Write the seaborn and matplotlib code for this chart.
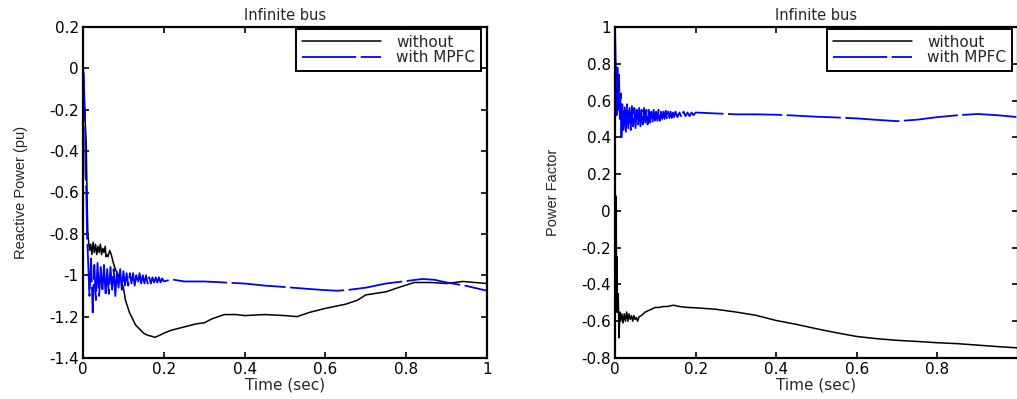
import matplotlib
matplotlib.use("Agg")
import matplotlib.pyplot as plt
from matplotlib import font_manager
import seaborn as sns
import pandas as pd

# ---------------- data ----------------
title_text = "Infinite bus"
x_label = "Time (sec)"
y_label_left = "Reactive Power (pu)"
y_label_right = "Power Factor"
series_names = ["without", "with MPFC"]

x_ticks = [0, 0.2, 0.4, 0.6, 0.8, 1.0]
x_ticklabels_left = ["0", "0.2", "0.4", "0.6", "0.8", "1"]
x_ticklabels_right = ["0", "0.2", "0.4", "0.6", "0.8", ""]
y_ticks_left = [0.2, 0, -0.2, -0.4, -0.6, -0.8, -1, -1.2, -1.4]
y_ticklabels_left = ["0.2", "0", "-0.2", "-0.4", "-0.6", "-0.8", "-1", "-1.2", "-1.4"]
y_ticks_right = [1, 0.8, 0.6, 0.4, 0.2, 0, -0.2, -0.4, -0.6, -0.8]
y_ticklabels_right = ["1", "0.8", "0.6", "0.4", "0.2", "0", "-0.2", "-0.4", "-0.6", "-0.8"]

# Reactive power, without MPFC (time, value)
q_without = [
    (0.000, 0.00), (0.004, -0.20), (0.008, -0.36), (0.010, -0.62), (0.012, -0.80),
    (0.014, -0.84), (0.016, -0.88), (0.019, -0.85), (0.022, -0.90), (0.025, -0.84),
    (0.028, -0.89), (0.031, -0.85), (0.034, -0.90), (0.037, -0.86), (0.040, -0.89),
    (0.043, -0.85), (0.046, -0.90), (0.049, -0.87), (0.052, -0.89), (0.055, -0.86),
    (0.057, -0.91), (0.059, -0.90), (0.062, -0.91), (0.066, -0.88), (0.070, -0.90),
    (0.075, -0.94), (0.080, -0.97), (0.085, -0.99), (0.090, -1.01), (0.095, -1.03),
    (0.100, -1.06), (0.105, -1.12), (0.110, -1.15), (0.115, -1.18), (0.120, -1.20),
    (0.130, -1.24), (0.140, -1.26), (0.150, -1.28), (0.160, -1.29), (0.170, -1.295),
    (0.178, -1.30), (0.190, -1.29), (0.200, -1.28), (0.220, -1.265), (0.250, -1.25),
    (0.280, -1.235), (0.300, -1.23), (0.320, -1.21), (0.350, -1.19), (0.380, -1.19),
    (0.400, -1.195), (0.450, -1.19), (0.500, -1.195), (0.530, -1.20), (0.560, -1.18),
    (0.600, -1.16), (0.650, -1.14), (0.680, -1.12), (0.700, -1.095), (0.750, -1.08),
    (0.780, -1.06), (0.820, -1.035), (0.860, -1.035), (0.900, -1.04), (0.940, -1.03),
    (0.970, -1.035), (1.000, -1.04),
]

# Reactive power, with MPFC (time, value)
q_with = [
    (0.000, 0.00), (0.002, -0.03), (0.004, -0.20), (0.005, -0.20), (0.006, -0.50),
    (0.008, -0.58), (0.010, -0.80), (0.012, -0.90), (0.016, -1.10), (0.020, -0.92),
    (0.024, -1.18), (0.028, -0.95), (0.032, -1.12), (0.036, -0.94), (0.040, -1.10),
    (0.044, -0.96), (0.048, -1.08), (0.052, -0.95), (0.056, -1.10), (0.060, -0.97),
    (0.064, -1.09), (0.068, -0.96), (0.072, -1.07), (0.076, -0.97), (0.080, -1.10),
    (0.084, -0.98), (0.088, -1.06), (0.092, -0.97), (0.096, -1.07), (0.100, -0.98),
    (0.104, -1.05), (0.108, -0.99), (0.112, -1.05), (0.116, -0.99), (0.120, -1.04),
    (0.124, -0.99), (0.128, -1.05), (0.132, -1.00), (0.136, -1.04), (0.140, -0.99),
    (0.144, -1.04), (0.148, -1.00), (0.152, -1.04), (0.156, -1.00), (0.160, -1.04),
    (0.164, -1.01), (0.168, -1.04), (0.172, -1.01), (0.176, -1.035), (0.180, -1.01),
    (0.184, -1.035), (0.188, -1.01), (0.192, -1.035), (0.196, -1.015), (0.200, -1.03),
    (0.220, -1.02), (0.250, -1.03), (0.300, -1.03), (0.350, -1.035), (0.400, -1.04),
    (0.450, -1.05), (0.500, -1.057), (0.550, -1.065), (0.600, -1.072), (0.630, -1.075),
    (0.660, -1.07), (0.700, -1.06), (0.750, -1.04), (0.800, -1.028), (0.840, -1.018),
    (0.870, -1.022), (0.900, -1.035), (0.950, -1.052), (1.000, -1.075),
]

# Power factor, without MPFC (time, value)
pf_without = [
    (0.003, 0.08), (0.004, -0.55), (0.005, -0.25), (0.006, -0.55), (0.008, -0.45),
    (0.010, -0.69), (0.012, -0.55), (0.014, -0.60), (0.017, -0.56), (0.020, -0.61),
    (0.023, -0.56), (0.026, -0.60), (0.029, -0.55), (0.032, -0.60), (0.035, -0.56),
    (0.038, -0.59), (0.041, -0.57), (0.044, -0.60), (0.047, -0.57), (0.050, -0.59),
    (0.053, -0.58), (0.056, -0.60), (0.060, -0.575), (0.065, -0.57), (0.070, -0.56),
    (0.075, -0.55), (0.080, -0.545), (0.090, -0.535), (0.100, -0.525), (0.110, -0.525),
    (0.120, -0.52), (0.130, -0.52), (0.145, -0.513), (0.160, -0.52), (0.180, -0.525),
    (0.200, -0.527), (0.250, -0.535), (0.300, -0.55), (0.350, -0.568), (0.400, -0.596),
    (0.450, -0.617), (0.500, -0.641), (0.550, -0.663), (0.600, -0.683), (0.650, -0.695),
    (0.700, -0.704), (0.750, -0.71), (0.800, -0.717), (0.850, -0.722), (0.900, -0.73),
    (0.950, -0.738), (1.000, -0.745),
]

# Power factor, with MPFC (time, value)
pf_with = [
    (0.000, 1.00), (0.002, 0.78), (0.004, 0.52), (0.006, 0.78), (0.008, 0.55),
    (0.010, 0.74), (0.012, 0.50), (0.014, 0.64), (0.016, 0.40), (0.018, 0.58),
    (0.021, 0.44), (0.024, 0.57), (0.027, 0.43), (0.030, 0.58), (0.033, 0.45),
    (0.036, 0.56), (0.039, 0.44), (0.042, 0.57), (0.045, 0.46), (0.048, 0.56),
    (0.051, 0.45), (0.054, 0.55), (0.057, 0.47), (0.060, 0.56), (0.063, 0.46),
    (0.066, 0.55), (0.069, 0.47), (0.072, 0.56), (0.075, 0.48), (0.078, 0.55),
    (0.081, 0.47), (0.084, 0.55), (0.087, 0.48), (0.090, 0.54), (0.093, 0.48),
    (0.096, 0.55), (0.099, 0.49), (0.102, 0.54), (0.105, 0.49), (0.108, 0.55),
    (0.111, 0.49), (0.114, 0.54), (0.117, 0.50), (0.120, 0.54), (0.123, 0.50),
    (0.126, 0.545), (0.129, 0.50), (0.132, 0.54), (0.135, 0.505), (0.138, 0.54),
    (0.141, 0.505), (0.144, 0.535), (0.147, 0.51), (0.150, 0.54), (0.155, 0.51),
    (0.160, 0.535), (0.165, 0.51), (0.170, 0.54), (0.175, 0.515), (0.180, 0.535),
    (0.185, 0.515), (0.190, 0.535), (0.195, 0.52), (0.200, 0.535), (0.250, 0.53),
    (0.300, 0.525), (0.350, 0.525), (0.400, 0.523), (0.450, 0.518), (0.500, 0.512),
    (0.550, 0.508), (0.600, 0.503), (0.650, 0.495), (0.700, 0.488), (0.750, 0.496),
    (0.800, 0.51), (0.850, 0.52), (0.900, 0.527), (0.950, 0.52), (1.000, 0.51),
]

# ---------------- styling ----------------
sns.set_style("ticks")
plt.rcParams["font.family"] = ["DejaVu Sans"]
avail = {f.name for f in font_manager.fontManager.ttflist}
narrow = "Liberation Sans Narrow" if "Liberation Sans Narrow" in avail else "Liberation Sans"

W, H = 1017, 399
fig = plt.figure(figsize=(W / 100, H / 100), dpi=100)
ax_l = fig.add_axes([83 / W, 1 - 358 / H, (487 - 83) / W, (358 - 27) / H])
ax_r = fig.add_axes([615 / W, 1 - 358 / H, (1018 - 615) / W, (358 - 27) / H])


def to_df(pairs, name):
    return pd.DataFrame({"t": [p[0] for p in pairs], "v": [p[1] for p in pairs], "s": name})


def draw(ax, wo, wi, yticks, yticklabels, ylim, ylabel, xticklabels):
    d1 = to_df(wo, series_names[0])
    d2 = to_df(wi, series_names[1])
    sns.lineplot(data=d1, x="t", y="v", ax=ax, color="black", lw=1.1,
                 estimator=None, sort=False, label=series_names[0])
    sns.lineplot(data=d2, x="t", y="v", ax=ax, color="#0000ff", lw=1.3,
                 estimator=None, sort=False, label=series_names[1],
                 linestyle=(0, (30, 2.5)))
    ax.set_xlim(0, 1)
    ax.set_ylim(*ylim)
    ax.set_xticks(x_ticks)
    ax.set_xticklabels(xticklabels)
    ax.set_yticks(yticks)
    ax.set_yticklabels(yticklabels)
    ax.tick_params(direction="in", length=4, width=1.2, top=True, right=True,
                   labelsize=11, pad=3, colors="black")
    for sp in ax.spines.values():
        sp.set_linewidth(1.6)
        sp.set_color("black")
    ax.set_title(title_text, fontsize=10.5, pad=5)
    ax.set_xlabel(x_label, fontsize=11, labelpad=0)
    ax.set_ylabel(ylabel, fontsize=10.5, family=narrow, labelpad=15)
    leg = ax.legend(loc="upper right", bbox_to_anchor=(0.99, 1.0), fontsize=11,
                    handlelength=5.2, handletextpad=1.0, borderpad=0.35,
                    labelspacing=0.05, fancybox=False, framealpha=1,
                    edgecolor="black", borderaxespad=0.15)
    leg.get_frame().set_linewidth(1.4)


draw(ax_l, q_without, q_with, y_ticks_left, y_ticklabels_left, (-1.4, 0.2),
     y_label_left, x_ticklabels_left)
draw(ax_r, pf_without, pf_with, y_ticks_right, y_ticklabels_right, (-0.8, 1.0),
     y_label_right, x_ticklabels_right)

fig.savefig("out.png", dpi=100)
